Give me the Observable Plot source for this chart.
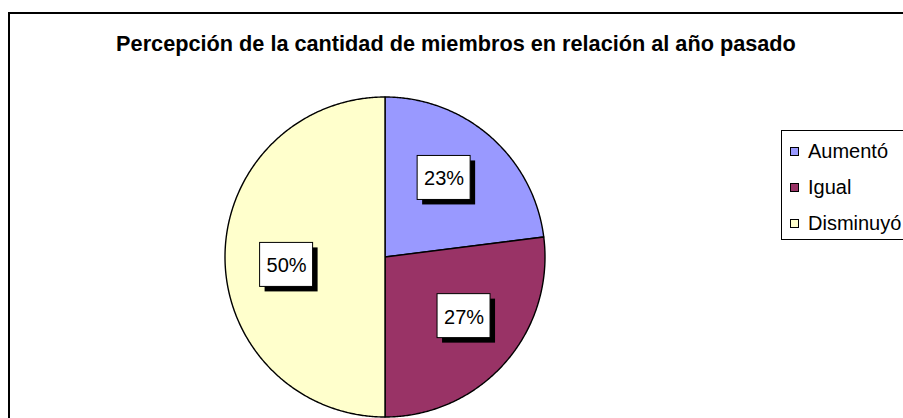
<!DOCTYPE html>
<html>
<head>
<meta charset="utf-8">
<script src="https://cdn.jsdelivr.net/npm/d3@7"></script>
<script src="https://cdn.jsdelivr.net/npm/@observablehq/plot@0.6"></script>
<style>
  html, body { margin: 0; padding: 0; background: #fff; overflow: hidden; }
  #wrap { position: relative; width: 903px; height: 418px; overflow: hidden; font-family: "Liberation Sans", Arial, sans-serif; }
  #frame { position: absolute; left: 8px; top: 12px; width: 1000px; height: 1000px; border: 2px solid #000; box-sizing: border-box; }
  #title { position: absolute; left: 0; width: 912px; top: 30.5px; text-align: center; font-weight: bold; font-size: 21.7px; color: #000; white-space: nowrap; }
  #legend { position: absolute; left: 781px; top: 130px; width: 200px; height: 110px; border: 1.5px solid #000; box-sizing: border-box; background: #fff; }
  .item { position: absolute; left: 8px; height: 24px; display: flex; align-items: center; font-size: 20px; white-space: nowrap; }
  .sw { width: 7px; height: 7px; border: 1.5px solid #000; margin-right: 9px; }
  #chart { position: absolute; left: 0; top: 0; }
</style>
</head>
<body>
<div id="wrap">
  <div id="frame"></div>
  <div id="title">Percepción de la cantidad de miembros en relación al año pasado</div>
  <div id="chart"></div>
  <div id="legend"></div>
</div>
<script>
const categories = ["Aumentó", "Igual", "Disminuyó"];
const values = [23, 27, 50];
const labels = ["23%", "27%", "50%"];
const colors = ["#9999FF", "#993366", "#FFFFCC"];

const W = 903, H = 418;
const cx = 384.5, cy = 256.5, R = 160;
const px = 1 / R; // data units per pixel
const labelRadius = 0.617, labelTurn = -4.6 * Math.PI / 180;

const total = d3.sum(values);
// slices clockwise from 12 o'clock
let acc = 0;
const slices = categories.map((c, i) => {
  const a0 = acc / total * 2 * Math.PI;
  acc += values[i];
  const a1 = acc / total * 2 * Math.PI;
  return {cat: c, a0, a1, label: labels[i], value: values[i]};
});

const poly = [];
for (const s of slices) {
  poly.push({cat: s.cat, x: 0, y: 0});
  const n = Math.max(2, Math.ceil((s.a1 - s.a0) / (Math.PI / 360)));
  for (let k = 0; k <= n; k++) {
    const a = s.a0 + (s.a1 - s.a0) * k / n;
    poly.push({cat: s.cat, x: Math.sin(a), y: Math.cos(a)});
  }
  poly.push({cat: s.cat, x: 0, y: 0});
}

const lab = slices.map(s => {
  const m = (s.a0 + s.a1) / 2 + labelTurn;
  return {label: s.label, x: Math.sin(m) * labelRadius, y: Math.cos(m) * labelRadius};
});
const hw = 26.5 * px, hh = 22 * px;

const plot = Plot.plot({
  width: W, height: H,
  margin: 0,
  style: {background: "transparent", overflow: "visible"},
  x: {domain: [-1, 1], range: [cx - R, cx + R], axis: null},
  y: {domain: [-1, 1], range: [cy + R, cy - R], axis: null},
  color: {domain: categories, range: colors},
  marks: [
    Plot.line(poly, {x: "x", y: "y", z: "cat", fill: "cat", stroke: "#000", strokeWidth: 1.4, strokeLinejoin: "round", curve: "linear"}),
    Plot.rect(lab, {x1: d => d.x - hw, x2: d => d.x + hw, y1: d => d.y - hh, y2: d => d.y + hh, fill: "#000", dx: 5, dy: 5}),
    Plot.rect(lab, {x1: d => d.x - hw, x2: d => d.x + hw, y1: d => d.y - hh, y2: d => d.y + hh, fill: "#fff", stroke: "#000", strokeWidth: 1}),
    Plot.text(lab, {x: "x", y: "y", text: "label", fontSize: 20, fill: "#000", fontFamily: "Liberation Sans, Arial, sans-serif", dy: 1})
  ]
});
document.getElementById("chart").appendChild(plot);

const leg = document.getElementById("legend");
categories.forEach((c, i) => {
  const it = document.createElement("div");
  it.className = "item";
  it.style.top = (8 + i * 36) + "px";
  const sw = document.createElement("span");
  sw.className = "sw";
  sw.style.background = colors[i];
  it.appendChild(sw);
  it.appendChild(document.createTextNode(c));
  leg.appendChild(it);
});
</script>
</body>
</html>
